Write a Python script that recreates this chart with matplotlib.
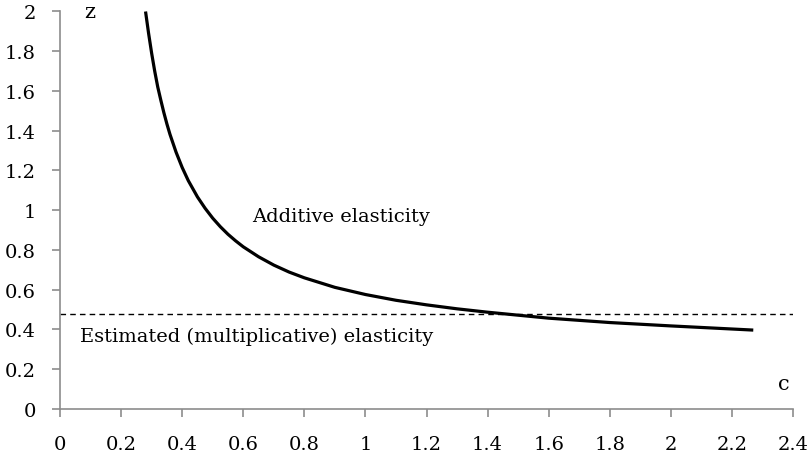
import numpy as np
import matplotlib.pyplot as plt

# values
c_vals = [0.28, 0.29, 0.30, 0.31, 0.32, 0.33, 0.34, 0.35, 0.36, 0.38,
          0.40, 0.42, 0.45, 0.475, 0.50, 0.525, 0.55, 0.575, 0.60, 0.65,
          0.70, 0.75, 0.80, 0.90, 1.00, 1.10, 1.20, 1.30, 1.40, 1.60,
          1.80, 2.00, 2.27]
z_vals = [2.00, 1.89, 1.79, 1.70, 1.62, 1.554, 1.491, 1.434, 1.382, 1.292,
          1.215, 1.149, 1.067, 1.01, 0.96, 0.917, 0.879, 0.846, 0.816, 0.766,
          0.724, 0.689, 0.66, 0.612, 0.576, 0.547, 0.524, 0.504, 0.487, 0.457,
          0.435, 0.418, 0.397]
estimated = 0.478
x_ticks = [0, 0.2, 0.4, 0.6, 0.8, 1, 1.2, 1.4, 1.6, 1.8, 2, 2.2, 2.4]
y_ticks = [0, 0.2, 0.4, 0.6, 0.8, 1, 1.2, 1.4, 1.6, 1.8, 2]

plt.rcParams['font.family'] = ['DejaVu Serif']
plt.rcParams['font.size'] = 14

fig = plt.figure(figsize=(8.09, 4.56), dpi=100)
ax = fig.add_axes([0.0742, 0.1009, 0.906, 0.8717])

ax.plot(c_vals, z_vals, color='black', lw=2.3, solid_capstyle='butt',
        solid_joinstyle='round')
ax.axhline(estimated, color='black', lw=1.0, ls=(0, (4, 3)))

ax.set_xlim(0, 2.4)
ax.set_ylim(0, 2)
ax.set_xticks(x_ticks)
ax.set_xticklabels([f'{v:g}' for v in x_ticks])
ax.set_yticks(y_ticks)
ax.set_yticklabels([f'{v:g}' for v in y_ticks])

for s in ['top', 'right']:
    ax.spines[s].set_visible(False)
for s in ['left', 'bottom']:
    ax.spines[s].set_color('#8c8c8c')
    ax.spines[s].set_linewidth(1.2)
ax.tick_params(colors='#8c8c8c', labelcolor='black', length=5.5, width=1.2,
               direction='out', labelsize=14)
ax.tick_params(axis='x', pad=13)
ax.tick_params(axis='y', pad=12)

ax.text(0.628, 0.97, 'Additive elasticity', fontsize=14, va='center')
ax.text(0.065, 0.367, 'Estimated (multiplicative) elasticity', fontsize=14, va='center')
ax.text(0.08, 2.0, 'z', fontsize=15, va='center')
ax.text(2.35, 0.13, 'c', fontsize=15, va='center')

fig.savefig('out.png', dpi=100)
